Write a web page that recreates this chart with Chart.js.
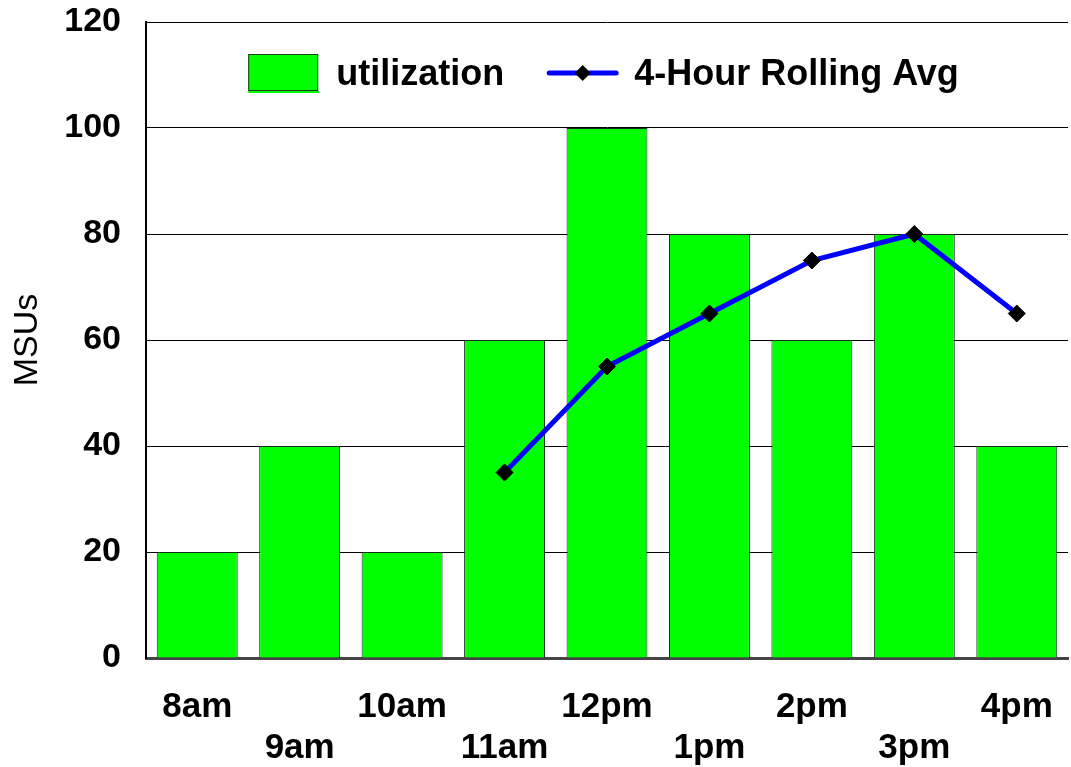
<!DOCTYPE html>
<html>
<head>
<meta charset="utf-8">
<script src="https://cdn.jsdelivr.net/npm/chart.js@4.4.1/dist/chart.umd.min.js"></script>
<style>
  html, body { margin: 0; padding: 0; background: #fff; }
  #wrap { width: 1071px; height: 767px; }
</style>
</head>
<body>
<div id="wrap"><canvas id="msuChart" width="1071" height="767"></canvas></div>
<script>
const hours = ['8am', '9am', '10am', '11am', '12pm', '1pm', '2pm', '3pm', '4pm']
const utilization = [20, 40, 20, 60, 100, 80, 60, 80, 40]
const rollingAvg = [null, null, null, 35, 55, 65, 75, 80, 65]
const yTicks = [0, 20, 40, 60, 80, 100, 120]

const FONT = "'Liberation Sans', Arial, sans-serif"

// alternate labels between two rows, like the original
const xLabels = hours.map((h, i) => (i % 2 === 0 ? [h, ''] : ['', h]))

// legend drawn inside the plot area, at the top
const insideLegend = {
  id: 'insideLegend',
  afterDraw(chart) {
    const { ctx, chartArea } = chart
    const font = 'bold 36px ' + FONT
    ctx.save()
    ctx.font = font
    const t1 = chart.data.datasets[0].label
    const t2 = chart.data.datasets[1].label
    const w1 = ctx.measureText(t1).width
    const w2 = ctx.measureText(t2).width
    const sw = 71
    const gapText = 17
    const gapItem = 43
    const total = sw + gapText + w1 + gapItem + sw + gapText + w2
    let x = (chartArea.left + chartArea.right) / 2 - total / 2 - 3
    const cy = chartArea.top + 51

    // bar swatch
    ctx.fillStyle = '#00ff00'
    ctx.fillRect(x, cy - 19, 70, 37)
    ctx.fillRect(x, cy + 18, 71, 2)
    ctx.strokeStyle = '#1f3a1f'
    ctx.lineWidth = 1
    ctx.strokeRect(x + 0.5, cy - 18.5, 69, 36)
    x += sw + gapText
    ctx.fillStyle = '#000'
    ctx.textBaseline = 'middle'
    ctx.textAlign = 'left'
    ctx.fillText(t1, x, cy + 2)
    x += w1 + gapItem

    // line swatch
    ctx.strokeStyle = '#0000ff'
    ctx.lineWidth = 5
    ctx.lineCap = 'round'
    ctx.beginPath()
    ctx.moveTo(x + 2, cy)
    ctx.lineTo(x + sw - 2, cy)
    ctx.stroke()
    const mx = x + sw / 2
    ctx.fillStyle = '#000'
    ctx.beginPath()
    ctx.moveTo(mx, cy - 8)
    ctx.lineTo(mx + 8, cy)
    ctx.lineTo(mx, cy + 8)
    ctx.lineTo(mx - 8, cy)
    ctx.closePath()
    ctx.fill()
    x += sw + gapText - 1
    ctx.fillText(t2, x, cy + 2)
    ctx.restore()
  }
}

new Chart(document.getElementById('msuChart').getContext('2d'), {
  data: {
    labels: xLabels,
    datasets: [
      {
        type: 'bar',
        label: 'utilization',
        data: utilization,
        backgroundColor: '#00ff00',
        borderColor: '#1c2a1c',
        borderWidth: 1,
        barPercentage: 0.79,
        categoryPercentage: 1,
        order: 1
      },
      {
        type: 'line',
        label: '4-Hour Rolling Avg',
        data: rollingAvg,
        borderColor: '#0000ff',
        borderWidth: 5,
        pointStyle: 'rectRot',
        pointRadius: 8.5,
        pointBackgroundColor: '#000',
        pointBorderColor: '#000',
        pointBorderWidth: 1,
        tension: 0,
        order: 0
      }
    ]
  },
  options: {
    responsive: false,
    animation: false,
    devicePixelRatio: 1,
    layout: {
      autoPadding: false,
      padding: { top: 22, left: 0, right: 3, bottom: 0 }
    },
    scales: {
      x: {
        offset: true,
        afterFit: s => {
          s.height = 109
          s.paddingLeft = 0
          s.paddingRight = 0
        },
        // only the closing line on the right side of the plot
        grid: {
          offset: true,
          drawTicks: false,
          color: c => (c.index === hours.length ? '#888' : 'rgba(0,0,0,0)'),
          lineWidth: 1
        },
        border: { color: '#444', width: 3 },
        ticks: {
          autoSkip: false,
          maxRotation: 0,
          padding: 29,
          color: '#000',
          font: { family: FONT, size: 35, weight: 'bold', lineHeight: 1.17 }
        }
      },
      y: {
        min: 0,
        max: 120,
        afterFit: s => {
          s.width = 146
          s.paddingTop = 0
          s.paddingBottom = 0
        },
        afterBuildTicks: axis => {
          axis.ticks = yTicks.map(v => ({ value: v }))
        },
        grid: { color: '#000', lineWidth: 1, drawTicks: false },
        border: { color: '#000', width: 2 },
        ticks: {
          padding: 25,
          color: '#000',
          font: { family: FONT, size: 34, weight: 'bold' }
        },
        title: {
          display: true,
          text: 'MSUs',
          color: '#000',
          padding: { top: 7, bottom: 0 },
          font: { family: FONT, size: 34, weight: 'normal' }
        }
      }
    },
    plugins: {
      tooltip: { enabled: false },
      legend: { display: false }
    }
  },
  plugins: [insideLegend]
})
</script>
</body>
</html>
